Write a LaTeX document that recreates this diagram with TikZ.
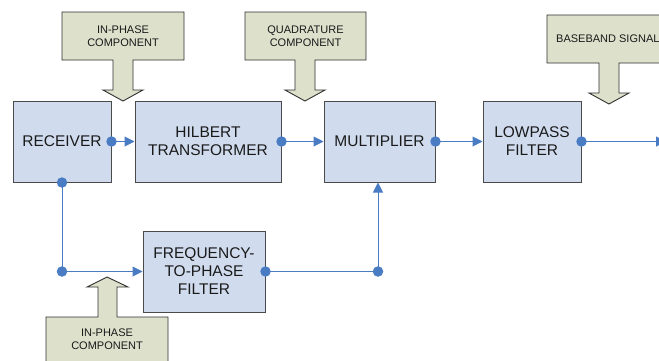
\documentclass[tikz,border=0pt]{standalone}
\usepackage{fontspec}
\setmainfont{Liberation Sans}
\usetikzlibrary{arrows.meta}
\definecolor{boxfill}{HTML}{D0DCEE}
\definecolor{boxline}{HTML}{4A4A4A}
\definecolor{callfill}{HTML}{DDE1CB}
\definecolor{callline}{HTML}{303030}
\definecolor{wire}{HTML}{4A7CC4}
\definecolor{txt}{HTML}{1A1A1A}
\tikzset{
  blockbox/.style={draw=boxline, line width=1pt, fill=boxfill, inner sep=0pt,
    align=center, text=txt, font=\fontsize{15.5}{18}\selectfont},
  callout/.style={draw=callline, line width=0.9pt, fill=callfill, line join=miter},
  calltext/.style={align=center, text=txt, inner sep=0pt, font=\fontsize{11}{13}\selectfont},
  wirearrow/.style={draw=wire, line width=1pt, -{Triangle[length=10pt,width=10pt]}},
  wireline/.style={draw=wire, line width=1pt},
  dotmark/.style={circle, fill=wire, inner sep=0pt, minimum size=10.5pt},
}
\begin{document}
\begin{tikzpicture}[x=1pt,y=-1pt]
\useasboundingbox (0,0) rectangle (659,360);
\clip (0,0) rectangle (659,360);
\fill[white] (0,0) rectangle (659,360);

% callouts
\path[callout] (62,12) -- (184,12) -- (184,60) -- (133,60) -- (133,90) -- (143,90) -- (123,101) -- (103,90) -- (113,90) -- (113,60) -- (62,60) -- cycle;
\node[calltext] (cin1) at (123,36) {IN-PHASE\\COMPONENT};

\path[callout] (245,12) -- (366,12) -- (366,60) -- (315,60) -- (315,90) -- (325,90) -- (305,101) -- (285,90) -- (295,90) -- (295,60) -- (245,60) -- cycle;
\node[calltext] (cquad) at (305.5,36) {QUADRATURE\\COMPONENT};

\path[callout] (547,15) -- (680,15) -- (680,63) -- (619,63) -- (619,93) -- (629,93) -- (609,104) -- (589,93) -- (599,93) -- (599,63) -- (547,63) -- cycle;
\node[calltext, anchor=west] (cbase) at (556,39) {BASEBAND SIGNAL};

\path[callout] (46,380) -- (46,317) -- (98,317) -- (98,287) -- (87,287) -- (107,277) -- (128,287) -- (117,287) -- (117,317) -- (168,317) -- (168,380) -- cycle;
\node[calltext] (cin2) at (107,339) {IN-PHASE\\COMPONENT};

% blocks
\node[blockbox, minimum width=98pt, minimum height=81pt] (rx) at (62,141.5) {RECEIVER};
\node[blockbox, minimum width=146pt, minimum height=81pt] (hil) at (208,141.5) {HILBERT\\TRANSFORMER};
\node[blockbox, minimum width=111pt, minimum height=81pt] (mul) at (379.5,141.5) {MULTIPLIER};
\node[blockbox, minimum width=98pt, minimum height=81pt] (lp) at (532,141.5) {LOWPASS\\FILTER};
\node[blockbox, minimum width=122pt, minimum height=81pt] (fp) at (204,271.5) {FREQUENCY-\\TO-PHASE\\FILTER};

% junction coordinates
\coordinate (j1) at (rx.south |- fp.west);
\coordinate (j2) at (378,271.5);
\coordinate (out) at (666,141.5);

% wires
\draw[wirearrow] (rx.east) -- (hil.west);
\draw[wirearrow] (hil.east) -- (mul.west);
\draw[wirearrow] (mul.east) -- (lp.west);
\draw[wirearrow] (lp.east) -- (out);
\draw[wireline] (rx.south) -- (j1);
\draw[wirearrow] (j1) -- (fp.west);
\draw[wireline] (fp.east) -- (j2);
\draw[wirearrow] (j2) -- (j2 |- mul.south);

% dots
\node[dotmark] (d1) at (rx.east) {};
\node[dotmark] (d2) at (hil.east) {};
\node[dotmark] (d3) at (mul.east) {};
\node[dotmark] (d4) at (lp.east) {};
\node[dotmark] (d5) at (rx.south) {};
\node[dotmark] (d6) at (j1) {};
\node[dotmark] (d7) at (fp.east) {};
\node[dotmark] (d8) at (j2) {};
\end{tikzpicture}
\end{document}
